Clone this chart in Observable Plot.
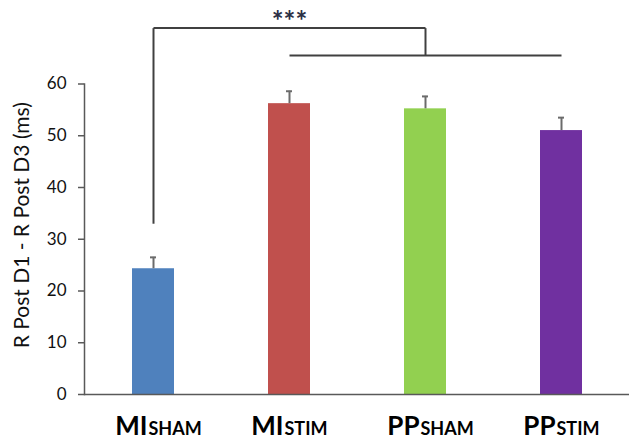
<!DOCTYPE html>
<html>
<head>
<meta charset="utf-8">
<script src="https://cdn.jsdelivr.net/npm/d3@7"></script>
<script src="https://cdn.jsdelivr.net/npm/@observablehq/plot@0.6"></script>
<style>
  html, body { margin: 0; padding: 0; background: #fff; }
  #chart svg { display: block; }
</style>
</head>
<body>
<div id="chart"></div>
<script>
// ---- data ----
const groups   = ["MISHAM", "MISTIM", "PPSHAM", "PPSTIM"];
const prefixes = ["MI", "MI", "PP", "PP"];
const suffixes = ["SHAM", "STIM", "SHAM", "STIM"];
const means    = [24.3, 56.2, 55.2, 51.0];
const errors   = [2.2, 2.4, 2.4, 2.5];
const colors   = ["#4F81BD", "#C0504D", "#92D050", "#7030A0"];
const yTicks   = [0, 10, 20, 30, 40, 50, 60];
const yTitle   = "R Post D1 - R Post D3 (ms)";
// significance bracket
const bracketTop = 70.8;     // upper horizontal level
const bracketLow = 65.5;     // lower horizontal level
const legBottom  = 33.0;     // bottom of the left leg above MISHAM
const stars      = "***";
const starsLevel = 72.0;

const rows = groups.map((g, i) => ({
  group: g, prefix: prefixes[i], suffix: suffixes[i],
  mean: means[i], top: means[i] + errors[i], color: colors[i]
}));

const lineColor = "#404040";

const chart = Plot.plot({
  width: 629,
  height: 439,
  marginLeft: 84,
  marginRight: 0,
  marginTop: 83.5,
  marginBottom: 45,
  style: { fontFamily: "Lato, 'Open Sans', sans-serif", background: "#fff" },
  x: { domain: groups, paddingInner: 0.689, paddingOuter: 0.3365, align: 0.51, axis: null },
  y: { domain: [0, 60], axis: null },
  marks: [
    // bars
    Plot.barY(rows, { x: "group", y: "mean", fill: "color" }),
    // error bars (upward only)
    Plot.ruleX(rows, { x: "group", y1: "mean", y2: "top", stroke: "#6b6b6b", strokeWidth: 2 }),
    Plot.tickY(rows, { x: "group", y: "top", stroke: "#6b6b6b", strokeWidth: 2, insetLeft: 18, insetRight: 18 }),
    // axes
    Plot.axisY({ ticks: yTicks, tickSize: 6, tickPadding: 12, fontSize: 17, stroke: "#595959", strokeWidth: 1.5, fill: "#111", label: null }),
    Plot.frame({ anchor: "left", stroke: "#595959", strokeWidth: 1.5 }),
    Plot.ruleY([0], { stroke: "#595959", strokeWidth: 1.5 }),
    Plot.text([yTitle], { frameAnchor: "left", textAnchor: "middle", dx: -62, dy: -14, rotate: -90, fontSize: 21, fill: "#111", text: d => d }),
    // category labels (large prefix + small-caps suffix)
    Plot.text(rows, { x: "group", text: "prefix", frameAnchor: "bottom", dy: 40, dx: -6, lineAnchor: "bottom", textAnchor: "end", fontSize: 26, fontWeight: "bold", fill: "#000" }),
    Plot.text(rows, { x: "group", text: "suffix", frameAnchor: "bottom", dy: 40, dx: -5, lineAnchor: "bottom", textAnchor: "start", fontSize: 18, fontWeight: "bold", fill: "#000" }),
    // significance bracket
    Plot.link([0], { x1: () => groups[0], x2: () => groups[2], y1: () => bracketTop, y2: () => bracketTop, stroke: lineColor, strokeWidth: 2 }),
    Plot.link([0], { x1: () => groups[0], x2: () => groups[0], y1: () => bracketTop, y2: () => legBottom, stroke: lineColor, strokeWidth: 2 }),
    Plot.link([0], { x1: () => groups[2], x2: () => groups[2], y1: () => bracketTop, y2: () => bracketLow, stroke: lineColor, strokeWidth: 2 }),
    Plot.link([0], { x1: () => groups[1], x2: () => groups[3], y1: () => bracketLow, y2: () => bracketLow, stroke: lineColor, strokeWidth: 2 }),
    Plot.text([stars], { x: () => groups[1], y: () => starsLevel, text: d => d, fontSize: 28, fontWeight: "bold", fill: "#2b2f45", letterSpacing: 1 })
  ]
});
document.getElementById("chart").appendChild(chart);
</script>
</body>
</html>
